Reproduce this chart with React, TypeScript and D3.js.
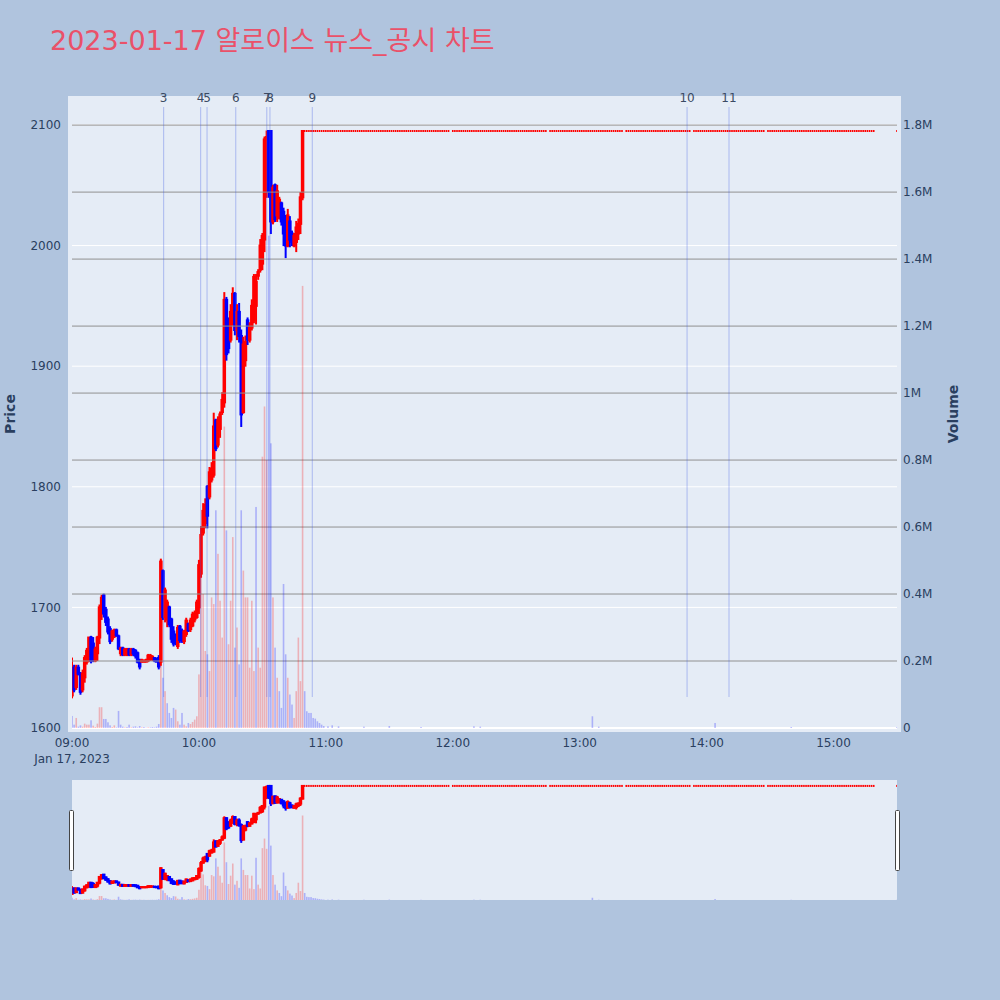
import React from "react";
import * as d3 from "d3";

// ---------------- data ----------------
const DAY = "2023-01-17";
const TITLE = "2023-01-17 알로이스 뉴스_공시 차트";
const SESSION_START = "09:00";
const SESSION_END = "15:30";

// one-minute candles from 09:00 onward (index = minutes after 09:00)
const openPx = [
  1627, 1650, 1634, 1650, 1645, 1632, 1642, 1655, 1660, 1675,
  1670, 1656, 1662, 1675, 1695, 1710, 1698, 1690, 1682, 1674,
  1676, 1681, 1676, 1662, 1666, 1661, 1662, 1665, 1661, 1665,
  1664, 1662, 1656, 1655, 1655, 1655, 1656, 1657, 1658, 1658,
  1657, 1658, 1655, 1730, 1692, 1690, 1700, 1690, 1680, 1676,
  1668, 1684, 1680, 1672, 1678, 1686, 1682, 1685, 1690, 1692,
  1700, 1728, 1762, 1770, 1800, 1792, 1806, 1810, 1855, 1835,
  1848, 1862, 1870, 1955, 1935, 1922, 1935, 1960, 1930, 1945,
  1925, 1862, 1905, 1938, 1922, 1932, 1938, 1950, 1975, 1980,
  1985, 2005, 2050, 2095, 2095, 2020, 2050, 2025, 2023, 2035,
  2028, 2020, 2000, 2020, 2010, 2000, 2003, 2010, 2018, 2040,
];
const highPx = [
  1658, 1652, 1652, 1652, 1646, 1648, 1660, 1666, 1675, 1676,
  1675, 1667, 1676, 1702, 1710, 1711, 1700, 1692, 1684, 1681,
  1682, 1682, 1677, 1667, 1667, 1666, 1666, 1666, 1666, 1666,
  1665, 1663, 1657, 1657, 1656, 1657, 1661, 1661, 1660, 1658,
  1658, 1660, 1740, 1731, 1716, 1706, 1701, 1691, 1684, 1678,
  1685, 1685, 1682, 1681, 1691, 1687, 1691, 1696, 1697, 1706,
  1739, 1767, 1786, 1790, 1801, 1816, 1820, 1861, 1856, 1858,
  1862, 1878, 1961, 1957, 1940, 1951, 1965, 1961, 1951, 1952,
  1930, 1924, 1925, 1940, 1936, 1955, 1976, 1976, 1980, 2005,
  2010, 2090, 2095, 2095, 2095, 2050, 2051, 2050, 2040, 2036,
  2031, 2025, 2030, 2024, 2012, 2010, 2020, 2022, 2044, 2095,
];
const lowPx = [
  1625, 1630, 1632, 1644, 1628, 1630, 1638, 1653, 1655, 1654,
  1655, 1655, 1656, 1670, 1690, 1692, 1685, 1678, 1670, 1672,
  1675, 1676, 1665, 1660, 1660, 1660, 1660, 1660, 1660, 1660,
  1658, 1654, 1649, 1655, 1655, 1655, 1655, 1656, 1656, 1655,
  1655, 1649, 1652, 1690, 1688, 1684, 1684, 1671, 1668, 1669,
  1666, 1671, 1671, 1670, 1676, 1680, 1680, 1684, 1688, 1691,
  1695, 1725, 1760, 1766, 1766, 1790, 1804, 1808, 1830, 1833,
  1841, 1860, 1866, 1905, 1911, 1920, 1934, 1926, 1922, 1920,
  1850, 1861, 1900, 1918, 1920, 1930, 1936, 1935, 1972, 1978,
  1980, 1995, 2040, 2040, 2010, 2018, 2020, 2020, 2022, 2017,
  2000, 1990, 1999, 1999, 2000, 1999, 1995, 2005, 2010, 2038,
];
const closePx = [
  1650, 1632, 1650, 1645, 1630, 1645, 1658, 1664, 1675, 1656,
  1657, 1665, 1675, 1700, 1708, 1695, 1688, 1680, 1672, 1680,
  1681, 1677, 1666, 1666, 1661, 1665, 1665, 1661, 1665, 1662,
  1660, 1655, 1651, 1656, 1656, 1656, 1660, 1660, 1659, 1656,
  1655, 1651, 1738, 1692, 1714, 1704, 1686, 1674, 1670, 1671,
  1683, 1673, 1673, 1680, 1689, 1681, 1689, 1694, 1695, 1704,
  1735, 1760, 1780, 1785, 1776, 1812, 1815, 1850, 1832, 1855,
  1860, 1872, 1955, 1910, 1915, 1945, 1960, 1930, 1945, 1925,
  1860, 1918, 1920, 1922, 1932, 1950, 1974, 1970, 1978, 2000,
  2008, 2088, 2090, 2045, 2020, 2048, 2022, 2045, 2038, 2020,
  2010, 2000, 2025, 2005, 2003, 2008, 2015, 2018, 2040, 2095,
];
// volume in thousands of shares
const volumeK = [
  36, 10, 30, 4, 8, 4, 13, 10, 10, 23,
  7, 3, 13, 62, 62, 27, 27, 17, 8, 3,
  8, 2, 51, 10, 4, 2, 3, 10, 2, 4,
  5, 2, 6, 2, 3, 1, 2, 2, 3, 2,
  4, 12, 210, 150, 110, 74, 45, 30, 60, 55,
  20, 10, 45, 10, 5, 15, 12, 18, 25, 35,
  160, 480, 400, 230, 220, 170, 390, 370, 650, 520,
  380, 270, 900, 590, 250, 380, 570, 240, 300, 190,
  650, 470, 390, 390, 180, 380, 170, 660, 240, 180,
  810, 960, 800, 1470, 850, 390, 240, 150, 110, 60,
  430, 220, 150, 100, 70, 30, 110, 270, 140, 1320,
];

// after 10:50 the price sat at the upper limit; runs of traded minutes
const LIMIT_PRICE = 2095;
const limitRuns: [string, string][] = [
  ["10:50", "11:58"],
  ["12:00", "12:44"],
  ["12:46", "13:20"],
  ["13:22", "13:52"],
  ["13:54", "14:27"],
  ["14:29", "15:19"],
  ["15:30", "15:30"],
];
const limitVolTimes = [
  "10:50", "10:51", "10:52", "10:53", "10:54", "10:55", "10:56", "10:57", "10:58", "10:59",
  "11:01", "11:03", "11:06", "11:18", "11:30", "11:45", "12:10", "12:13", "13:06", "13:09",
  "14:04", "14:40", "15:30",
];
const limitVolK = [
  110, 50, 45, 45, 30, 28, 20, 15, 10, 6,
  5, 8, 5, 4, 6, 3, 5, 4, 35, 4,
  15, 3, 3,
];

// news / disclosure markers
const eventLabels = ["3", "4", "5", "6", "7", "8", "9", "10", "11"];
const eventTimes = [
  "09:43:20", "10:00:50", "10:03:50", "10:17:25", "10:32:05",
  "10:33:35", "10:53:35", "13:50:45", "14:10:35",
];

const priceTicks = [1600, 1700, 1800, 1900, 2000, 2100];
const volumeTicks = [0, 200000, 400000, 600000, 800000, 1000000, 1200000, 1400000, 1600000, 1800000];
const timeTicks = ["09:00", "10:00", "11:00", "12:00", "13:00", "14:00", "15:00"];
const PRICE_RANGE = [1600, 2120.7];
const VOLUME_RANGE = [0, 1875000];

// ---------------- helpers ----------------
const toDate = (hm: string) => new Date(`${DAY}T${hm.length === 5 ? hm + ":00" : hm}`);
const addMin = (d: Date, m: number) => new Date(d.getTime() + m * 60000);

type Candle = { t: Date; o: number; h: number; l: number; c: number; flat?: boolean };
type Vol = { t: Date; v: number; up: boolean };

const start = toDate(SESSION_START);
const candles: Candle[] = openPx.map((o, i) => ({
  t: addMin(start, i), o, h: highPx[i], l: lowPx[i], c: closePx[i],
}));
limitRuns.forEach(([a, b]) => {
  const ta = toDate(a).getTime();
  const tb = toDate(b).getTime();
  for (let t = ta; t <= tb; t += 60000) {
    candles.push({ t: new Date(t), o: LIMIT_PRICE, h: LIMIT_PRICE, l: LIMIT_PRICE, c: LIMIT_PRICE, flat: true });
  }
});
const vols: Vol[] = volumeK.map((v, i) => ({
  t: addMin(start, i),
  v: v * 1000,
  up: i > 0 && closePx[i] > closePx[i - 1],
}));
limitVolTimes.forEach((t, i) => vols.push({ t: toDate(t), v: limitVolK[i] * 1000, up: false }));

const INC = "#ff0000";
const DEC = "#0000ff";
const INC_V = "rgba(255,0,0,0.25)";
const DEC_V = "rgba(0,0,255,0.25)";
const FONT = "'DejaVu Sans', 'Noto Sans CJK KR', sans-serif";
const TXT = "#2a3f5f";

function CandleLayer({ x, y }: { x: any; y: any }) {
  return (
    <g>
      {candles.map((d, i) => {
        const cx = x(d.t);
        const col = d.flat || d.c > d.o ? INC : DEC;
        if (d.flat) {
          return <rect key={i} x={cx - 0.8} y={y(d.c) - 1} width={1.6} height={2} fill={col} />;
        }
        const yt = Math.min(y(d.o), y(d.c));
        const yb = Math.max(y(d.o), y(d.c));
        return (
          <g key={i}>
            <rect x={cx - 1} y={y(d.h) - 0.5} width={2} height={y(d.l) - y(d.h) + 1} fill={col} />
            <rect x={cx - 1.75} y={yt - 1} width={3.5} height={yb - yt + 2} fill={col} />
          </g>
        );
      })}
    </g>
  );
}

function VolumeLayer({ x, y }: { x: any; y: any }) {
  return (
    <g>
      {vols.map((d, i) => (
        <rect key={i} x={x(d.t) - 0.8} y={y(d.v)} width={1.6} height={y(0) - y(d.v)} fill={d.up ? INC_V : DEC_V} />
      ))}
    </g>
  );
}

export default function App() {
  const L = 72, R = 897, T = 100, B = 728;
  const x = d3.scaleTime().domain([toDate(SESSION_START), toDate(SESSION_END)]).range([L, R]);
  const yP = d3.scaleLinear().domain(PRICE_RANGE).range([B, T]);
  const yV = d3.scaleLinear().domain(VOLUME_RANGE).range([B, T]);
  const ST = 780, SB = 900;
  const yPs = yP.copy().range([SB, ST]);
  const yVs = yV.copy().range([SB, ST]);
  const fmtV = (v: number) => (v === 0 ? "0" : d3.format("~g")(v / 1e6) + "M");

  return (
    <svg
      width={1000}
      height={1000}
      style={{ position: "absolute", left: 0, top: 0, background: "#b0c4de" }}
      fontFamily={FONT}
    >
      <defs>
        <clipPath id="mainClip">
          <rect x={L} y={T} width={R - L} height={B - T} />
        </clipPath>
        <clipPath id="sliderClip">
          <rect x={L} y={ST} width={R - L} height={SB - ST} />
        </clipPath>
      </defs>
      <rect width={1000} height={1000} fill="#b0c4de" />

      {/* title */}
      <text x={50} y={50} fontSize={27} fill="#ea5169">{TITLE}</text>

      {/* main plot background */}
      <rect x={L - 4} y={T - 4} width={R - L + 8} height={B - T + 8} fill="#e5ecf6" />

      {/* price grid */}
      {priceTicks.map((p) => (
        <line key={p} x1={L} x2={R} y1={yP(p)} y2={yP(p)} stroke="#ffffff" strokeWidth={1} />
      ))}

      <g clipPath="url(#mainClip)">
        <CandleLayer x={x} y={yP} />
      </g>

      {/* volume grid (overlay axis, above price traces) */}
      {volumeTicks.map((v) =>
        v === 0 ? (
          <line key={v} x1={L} x2={R} y1={yV(v)} y2={yV(v)} stroke="#ffffff" strokeWidth={2} />
        ) : (
          <line key={v} x1={L} x2={R} y1={yV(v)} y2={yV(v)} stroke="#909090" strokeWidth={1} />
        )
      )}

      <g clipPath="url(#mainClip)">
        <VolumeLayer x={x} y={yV} />
      </g>

      {/* event markers */}
      {eventTimes.map((t, i) => {
        const ex = x(toDate(t));
        return (
          <g key={i}>
            <line x1={ex} x2={ex} y1={107} y2={697} stroke="rgba(60,90,230,0.35)" strokeWidth={1} />
            <text x={ex} y={101.5} fontSize={12} textAnchor="middle" fill="#3b4a63">{eventLabels[i]}</text>
          </g>
        );
      })}

      {/* left axis */}
      {priceTicks.map((p) => (
        <text key={p} x={61} y={yP(p) + 4.3} fontSize={12} textAnchor="end" fill={TXT}>{p}</text>
      ))}
      {/* right axis */}
      {volumeTicks.map((v) => (
        <text key={v} x={903} y={yV(v) + 4.3} fontSize={12} textAnchor="start" fill={TXT}>{fmtV(v)}</text>
      ))}
      {/* x axis */}
      {timeTicks.map((t) => (
        <text key={t} x={x(toDate(t))} y={746.5} fontSize={12} textAnchor="middle" fill={TXT}>{t}</text>
      ))}
      <text x={x(toDate(timeTicks[0]))} y={762.5} fontSize={12} textAnchor="middle" fill={TXT}>
        {d3.timeFormat("%b %-d, %Y")(toDate(timeTicks[0]))}
      </text>

      {/* axis titles */}
      <text
        transform={`translate(10,414) rotate(-90)`}
        fontSize={14}
        fontWeight="bold"
        textAnchor="middle"
        dominantBaseline="central"
        fill={TXT}
      >
        Price
      </text>
      <text
        transform={`translate(953,414) rotate(-90)`}
        fontSize={14}
        fontWeight="bold"
        textAnchor="middle"
        dominantBaseline="central"
        fill={TXT}
      >
        Volume
      </text>

      {/* range slider */}
      <rect x={L} y={ST} width={R - L} height={SB - ST} fill="#e5ecf6" />
      <g clipPath="url(#sliderClip)">
        <CandleLayer x={x} y={yPs} />
        <VolumeLayer x={x} y={yVs} />
      </g>
      <rect x={L - 2.5} y={810.5} width={4} height={60} rx={1} fill="#ffffff" stroke="#444" strokeWidth={1} />
      <rect x={R - 1.5} y={810.5} width={4} height={60} rx={1} fill="#ffffff" stroke="#444" strokeWidth={1} />
    </svg>
  );
}
